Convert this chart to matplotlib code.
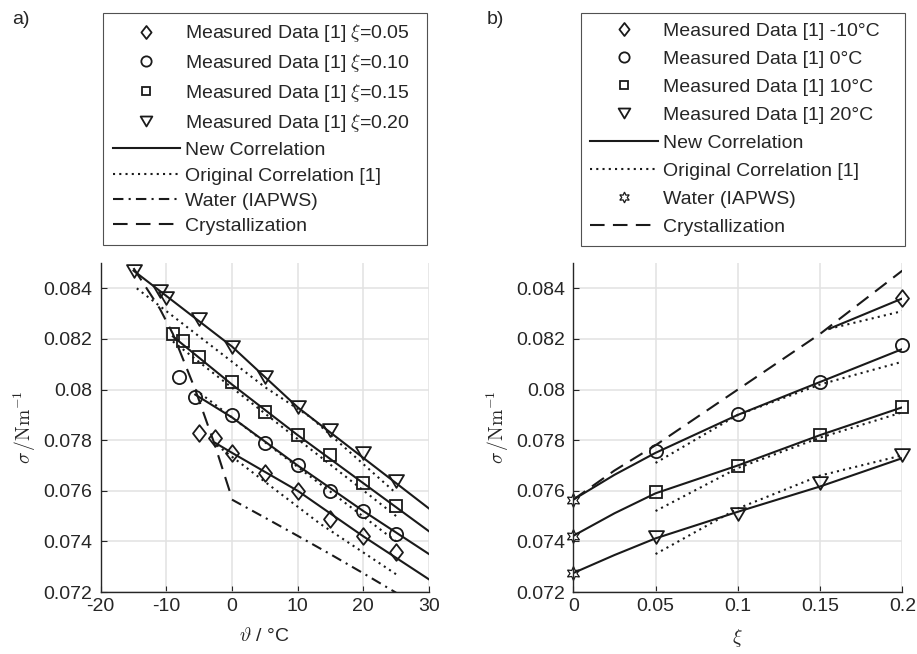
import matplotlib
matplotlib.use("Agg")
import matplotlib.pyplot as plt
from matplotlib.path import Path
from matplotlib.ticker import FuncFormatter

plt.rcParams['font.family'] = ['Liberation Sans', 'DejaVu Sans']
plt.rcParams['mathtext.fontset'] = 'cm'
plt.rcParams['axes.unicode_minus'] = False

# ---------------- panel a): sigma over temperature ----------------
xi_labels = ['0.05', '0.10', '0.15', '0.20']

T_meas_a = [
    [-5, -2.6, 0, 5, 10, 15, 20, 25],
    [-8, -5.6, 0, 5, 10, 15, 20, 25],
    [-9, -7.5, -5, 0, 5, 10, 15, 20, 25],
    [-15, -11, -10, -5, 0, 5, 10, 15, 20, 25],
]
sig_meas_a = [
    [0.0783, 0.0781, 0.0775, 0.0767, 0.0760, 0.0749, 0.0742, 0.0736],
    [0.0805, 0.0797, 0.0790, 0.0779, 0.0770, 0.0760, 0.0752, 0.0743],
    [0.0822, 0.0819, 0.0813, 0.0803, 0.0791, 0.0782, 0.0774, 0.0763, 0.0754],
    [0.0847, 0.0839, 0.0836, 0.0828, 0.0817, 0.0805, 0.0793, 0.0784, 0.0775, 0.0764],
]

T_new_a = [
    [-2.6, 0, 10, 20, 30],
    [-5.6, 0, 10, 20, 30],
    [-9, 0, 10, 20, 30],
    [-15, 0, 10, 20, 30],
]
sig_new_a = [
    [0.0779, 0.0775, 0.0760, 0.0742, 0.0725],
    [0.0798, 0.0789, 0.0770, 0.0752, 0.0735],
    [0.0821, 0.0802, 0.0782, 0.0763, 0.0744],
    [0.0847, 0.0817, 0.0793, 0.0773, 0.0753],
]

T_orig_a = [
    [-2.3, 13.4, 25],
    [-5.6, 25],
    [-9, 25],
    [-14.5, -5, 5, 12, 25],
]
sig_orig_a = [
    [0.0778, 0.0747, 0.0727],
    [0.0800, 0.0740],
    [0.0819, 0.0750],
    [0.0840, 0.0821, 0.0801, 0.0789, 0.0759],
]

T_water = [0, 5, 10, 15, 20, 25]
sig_water = [0.07565, 0.07494, 0.07422, 0.07349, 0.07274, 0.07197]

T_cryst = [-15, -11, -9, -5.6, -2.6, 0]
sig_cryst_a = [0.0848, 0.0832, 0.0822, 0.0800, 0.0778, 0.0757]

# ---------------- panel b): sigma over mass fraction ----------------
T_labels = ['-10°C', '0°C', '10°C', '20°C']

xi_meas_b = [[0.20], [0.05, 0.10, 0.15, 0.20], [0.05, 0.10, 0.15, 0.20], [0.05, 0.10, 0.15, 0.20]]
sig_meas_b = [
    [0.0836],
    [0.07756, 0.07904, 0.08031, 0.08175],
    [0.07597, 0.07696, 0.07822, 0.07930],
    [0.07418, 0.07508, 0.07630, 0.07742],
]

xi_new_b = [[0.1555, 0.2], [0, 0.025, 0.05, 0.1, 0.15, 0.2],
            [0, 0.025, 0.05, 0.1, 0.15, 0.2], [0, 0.025, 0.05, 0.1, 0.15, 0.2]]
sig_new_b = [
    [0.0824, 0.0836],
    [0.07565, 0.07663, 0.0775, 0.0790, 0.0803, 0.0816],
    [0.07422, 0.07511, 0.0759, 0.0770, 0.0782, 0.0793],
    [0.07275, 0.07346, 0.07412, 0.07517, 0.07617, 0.07729],
]

xi_orig_b = [[0.1555, 0.2], [0.05, 0.1, 0.15, 0.2], [0.05, 0.1, 0.15, 0.2], [0.05, 0.1, 0.15, 0.2]]
sig_orig_b = [
    [0.0824, 0.0831],
    [0.0771, 0.0790, 0.0802, 0.0811],
    [0.0752, 0.0769, 0.0781, 0.0791],
    [0.0735, 0.0753, 0.0766, 0.0774],
]

xi_water_b = [0, 0, 0]
sig_water_b = [0.07565, 0.07422, 0.07274]

xi_cryst = [0, 0.025, 0.05, 0.1, 0.15, 0.2]
sig_cryst_b = [0.07565, 0.0768, 0.0778, 0.0800, 0.0822, 0.0847]

y_ticks = [0.072, 0.074, 0.076, 0.078, 0.08, 0.082, 0.084]

# ---------------- styling ----------------
ink = '#1a1a1a'
diamond = Path([(0, 1), (0.78, 0), (0, -1), (-0.78, 0), (0, 1)], closed=True)
triangle = Path([(-1, 0.85), (1, 0.85), (0, -0.85), (-1, 0.85)], closed=True)
markers = [diamond, 'o', 's', triangle]
msizes = [12, 9.5, 8, 10.8]
lw = 1.5


def style_axes(ax):
    ax.set_ylim(0.072, 0.085)
    ax.set_yticks(y_ticks)
    fmt = FuncFormatter(lambda v, p: '%g' % v)
    ax.yaxis.set_major_formatter(fmt)
    ax.xaxis.set_major_formatter(fmt)
    ax.grid(True, color='#e2e2e2', lw=1.1)
    ax.set_axisbelow(True)
    ax.spines['top'].set_visible(False)
    ax.spines['right'].set_visible(False)
    for s in ['left', 'bottom']:
        ax.spines[s].set_color('#262626')
        ax.spines[s].set_linewidth(1.0)
    ax.tick_params(direction='in', length=4, labelsize=14, colors='#262626')
    ax.tick_params(axis='y', pad=6)
    ax.tick_params(axis='x', pad=4)


def add_legend(ax, handles, labels, x0, spacing):
    leg = ax.legend(handles, labels, loc='upper left',
                    bbox_to_anchor=(x0, 0.6254, 0.3533, 0.3552),
                    bbox_transform=ax.figure.transFigure, mode='expand',
                    fontsize=14, handlelength=3.45, handletextpad=0.28,
                    labelspacing=spacing, borderpad=0.5, borderaxespad=0,
                    fancybox=False, edgecolor='#262626', markerscale=0.78,
                    numpoints=1)
    leg.get_frame().set_linewidth(0.8)
    for t in leg.get_texts():
        t.set_color('#262626')
    return leg


fig = plt.figure(figsize=(9.17, 6.54), dpi=100)
ax_a = fig.add_axes([0.1098, 0.0948, 0.358, 0.503])
ax_b = fig.add_axes([0.6252, 0.0948, 0.3588, 0.503])

# ---- panel a ----
h_meas_a = []
for i in range(4):
    h_new, = ax_a.plot(T_new_a[i], sig_new_a[i], '-', color=ink, lw=lw)
    h_orig, = ax_a.plot(T_orig_a[i], sig_orig_a[i], ls=(0, (1, 2)), color=ink, lw=lw)
for i in range(4):
    h, = ax_a.plot(T_meas_a[i], sig_meas_a[i], ls='none', marker=markers[i],
                   ms=msizes[i], mfc='none', mec=ink, mew=1.3, clip_on=False)
    h_meas_a.append(h)
h_water_a, = ax_a.plot(T_water, sig_water, ls=(0, (5, 2.5, 1, 2.5)), color=ink, lw=lw)
h_cryst_a, = ax_a.plot(T_cryst, sig_cryst_a, ls=(0, (7, 4)), color=ink, lw=lw)

ax_a.set_xlim(-20, 30)
ax_a.set_xticks([-20, -10, 0, 10, 20, 30])
style_axes(ax_a)
ax_a.set_xlabel(r'$\vartheta$ / °C', fontsize=14, color='#262626')
ax_a.set_ylabel(r'$\sigma\,/\mathrm{Nm}^{-1}$', fontsize=14, color='#262626')
ax_a.xaxis.set_label_coords(0.5, -0.105)
ax_a.yaxis.set_label_coords(-0.19, 0.5)

labels_a = ['Measured Data [1] $\\xi$=' + s for s in xi_labels]
labels_a += ['New Correlation', 'Original Correlation [1]', 'Water (IAPWS)', 'Crystallization']
add_legend(ax_a, h_meas_a + [h_new, h_orig, h_water_a, h_cryst_a], labels_a, 0.1123, 0.40)

# ---- panel b ----
h_meas_b = []
for i in range(4):
    h_new_b, = ax_b.plot(xi_new_b[i], sig_new_b[i], '-', color=ink, lw=lw)
    h_orig_b, = ax_b.plot(xi_orig_b[i], sig_orig_b[i], ls=(0, (1, 2)), color=ink, lw=lw)
h_cryst_b, = ax_b.plot(xi_cryst, sig_cryst_b, ls=(0, (7, 4)), color=ink, lw=lw)
for i in range(4):
    h, = ax_b.plot(xi_meas_b[i], sig_meas_b[i], ls='none', marker=markers[i],
                   ms=msizes[i], mfc='none', mec=ink, mew=1.3, clip_on=False)
    h_meas_b.append(h)
h_water_b, = ax_b.plot(xi_water_b, sig_water_b, ls='none', marker=(6, 1, 0),
                       ms=10, mfc='none', mec=ink, mew=0.9, clip_on=False)

ax_b.set_xlim(0, 0.2)
ax_b.set_xticks([0, 0.05, 0.1, 0.15, 0.2])
style_axes(ax_b)
ax_b.set_xlabel(r'$\xi$', fontsize=14, color='#262626')
ax_b.set_ylabel(r'$\sigma\,/\mathrm{Nm}^{-1}$', fontsize=14, color='#262626')
ax_b.xaxis.set_label_coords(0.5, -0.105)
ax_b.yaxis.set_label_coords(-0.19, 0.5)

labels_b = ['Measured Data [1] ' + s for s in T_labels]
labels_b += ['New Correlation', 'Original Correlation [1]', 'Water (IAPWS)', 'Crystallization']
add_legend(ax_b, h_meas_b + [h_new_b, h_orig_b, h_water_b, h_cryst_b], labels_b, 0.6333, 0.535)

fig.text(12 / 917, 1 - 19 / 654, 'a)', fontsize=14, va='center', color='#262626')
fig.text(487 / 917, 1 - 19 / 654, 'b)', fontsize=14, va='center', color='#262626')

fig.savefig('out.png', dpi=100)
